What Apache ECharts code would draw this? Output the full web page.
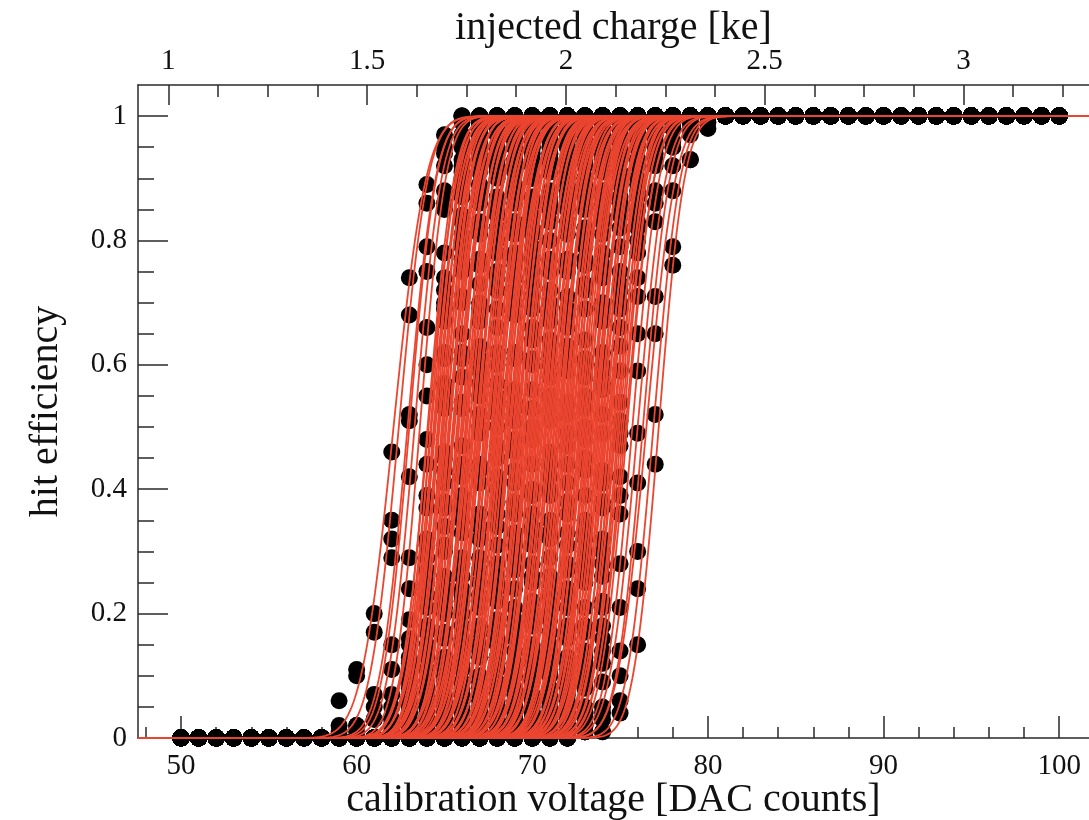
<!DOCTYPE html>
<html>
<head>
<meta charset="utf-8">
<script src="https://cdn.jsdelivr.net/npm/echarts@6/dist/echarts.min.js"></script>
<style>
  html, body { margin: 0; padding: 0; background: #fff; }
  #chart { width: 1089px; height: 820px; }
</style>
</head>
<body>
<div id="chart"></div>
<script>
// Threshold scan of a pixel matrix: hit efficiency of every pixel versus the
// injected calibration voltage, with the error-function fit of each pixel.

// Fitted threshold of every pixel [DAC counts]
const pixelThreshold = [
  62.1, 62.4, 62.9, 63.0, 63.3, 63.6,
  64.04, 64.09, 64.21, 64.26, 64.38, 64.43, 64.49, 64.61, 64.67, 64.72, 64.84, 64.91, 64.97,
  65.06, 65.11, 65.23, 65.29, 65.33, 65.47, 65.52, 65.58, 65.71, 65.76, 65.83, 65.95,
  66.02, 66.08, 66.19, 66.24, 66.31, 66.42, 66.46, 66.57, 66.63, 66.69, 66.81, 66.86, 66.94,
  67.03, 67.10, 67.14, 67.26, 67.32, 67.41, 67.48, 67.53, 67.66, 67.71, 67.79, 67.87, 67.92, 67.99,
  68.08, 68.13, 68.22, 68.29, 68.35, 68.46, 68.51, 68.59, 68.68, 68.74, 68.79, 68.91, 68.96,
  69.05, 69.12, 69.18, 69.27, 69.36, 69.41, 69.49, 69.57, 69.62, 69.73, 69.78, 69.86, 69.94,
  70.01, 70.09, 70.17, 70.24, 70.32, 70.39, 70.47, 70.55, 70.61, 70.70, 70.77, 70.83, 70.92, 70.98,
  71.07, 71.13, 71.22, 71.28, 71.37, 71.44, 71.52, 71.58, 71.67, 71.74, 71.81, 71.89, 71.96,
  72.05, 72.11, 72.20, 72.28, 72.34, 72.43, 72.51, 72.56, 72.65, 72.73, 72.79, 72.88, 72.95,
  73.03, 73.12, 73.18, 73.27, 73.33, 73.42, 73.49, 73.58, 73.64, 73.71, 73.80, 73.87, 73.96,
  74.04, 74.13, 74.19, 74.28, 74.37, 74.43, 74.52, 74.61, 74.69, 74.78, 74.88, 74.97,
  75.08, 75.19, 75.31, 75.40,
  75.7, 76.0, 76.3, 76.5, 76.9, 77.2
];

// Fitted noise (width of the turn-on) of every pixel [DAC counts]
const pixelNoise = [
  1.45, 1.30, 1.25, 1.20, 1.20, 1.15,
  1.18, 1.26, 1.12, 1.31, 1.22, 1.09, 1.27, 1.15, 1.35, 1.20, 1.14, 1.24, 1.17,
  1.29, 1.10, 1.21, 1.33, 1.16, 1.25, 1.08, 1.30, 1.19, 1.23, 1.13, 1.28,
  1.20, 1.36, 1.11, 1.24, 1.17, 1.29, 1.06, 1.21, 1.32, 1.15, 1.26, 1.19, 1.12,
  1.27, 1.18, 1.34, 1.09, 1.22, 1.30, 1.16, 1.24, 1.13, 1.28, 1.20, 1.37, 1.14, 1.21,
  1.26, 1.10, 1.31, 1.18, 1.23, 1.15, 1.33, 1.07, 1.25, 1.19, 1.29, 1.12, 1.22,
  1.17, 1.35, 1.20, 1.11, 1.27, 1.21, 1.14, 1.32, 1.09, 1.24, 1.18, 1.30, 1.16,
  1.23, 1.13, 1.28, 1.20, 1.34, 1.10, 1.22, 1.17, 1.26, 1.14, 1.31, 1.19, 1.08, 1.25,
  1.21, 1.36, 1.15, 1.24, 1.12, 1.29, 1.18, 1.23, 1.10, 1.33, 1.20, 1.16, 1.27,
  1.19, 1.30, 1.13, 1.25, 1.18, 1.22, 1.09, 1.32, 1.17, 1.26, 1.14, 1.21, 1.35,
  1.16, 1.24, 1.11, 1.28, 1.20, 1.15, 1.31, 1.19, 1.23, 1.12, 1.27, 1.18, 1.22,
  1.14, 1.29, 1.21, 1.33, 1.17, 1.24, 1.10, 1.27, 1.19, 1.30, 1.16, 1.22,
  1.25, 1.18, 1.28, 1.20,
  1.20, 1.25, 1.20, 1.30, 1.20, 1.15
];

// Measured efficiency [%] across the turn-on of every pixel.
// First entry: DAC value of the first listed point. Below it the pixel never
// fired (0 %), after the last listed point it always fired (100 %).
const scanRows = [
  [59, 6, 11, 20, 46, 74, 89, 95],
  [59, 2, 10, 17, 35, 68, 86, 97],
  [59, 1, 2, 7, 32, 52, 79, 94],
  [60, 2, 5, 29, 51, 75, 92, 99],
  [60, 1, 3, 15, 42, 66, 86, 96],
  [61, 3, 11, 29, 60, 88, 97],
  [62, 3, 24, 44, 85, 95, 99], [62, 7, 16, 55, 74, 97, 99], [62, 2, 12, 48, 70, 93, 99],
  [62, 5, 19, 37, 78, 90, 98], [62, 1, 13, 29, 72, 87, 99], [62, 2, 8, 39, 61, 92, 99],
  [62, 3, 15, 31, 67, 84, 97], [62, 1, 9, 27, 69, 91, 98], [62, 2, 10, 23, 62, 81, 96],
  [62, 1, 5, 32, 53, 88, 97], [62, 1, 7, 21, 57, 83, 98], [63, 4, 23, 45, 84, 92, 99],
  [63, 5, 18, 54, 76, 96, 99],
  [63, 6, 25, 43, 80, 94, 99], [63, 3, 17, 56, 79, 97, 99], [63, 2, 15, 46, 70, 93, 99],
  [63, 4, 18, 38, 77, 89, 98], [63, 2, 14, 41, 75, 95, 99], [63, 3, 11, 37, 61, 88, 98],
  [63, 1, 9, 30, 71, 91, 99], [63, 2, 13, 34, 65, 86, 97], [63, 1, 6, 24, 62, 87, 97],
  [63, 1, 8, 31, 54, 82, 98], [63, 0, 5, 26, 58, 89, 98], [64, 5, 20, 47, 81, 94, 99],
  [64, 4, 22, 53, 83, 95, 99], [64, 7, 21, 44, 76, 92, 99], [64, 2, 13, 42, 77, 94, 99],
  [64, 3, 17, 39, 69, 91, 98], [64, 3, 16, 37, 73, 94, 99], [64, 2, 11, 35, 63, 87, 98],
  [64, 1, 10, 33, 70, 93, 99], [64, 2, 12, 29, 67, 90, 98], [64, 2, 9, 26, 59, 82, 96],
  [64, 1, 6, 28, 61, 85, 98], [64, 1, 7, 24, 55, 86, 97], [64, 0, 6, 22, 57, 84, 98],
  [65, 3, 20, 49, 82, 96, 99],
  [65, 5, 23, 52, 80, 95, 99], [65, 4, 18, 50, 78, 93, 99], [65, 4, 15, 44, 74, 92, 98],
  [65, 2, 16, 41, 72, 95, 99], [65, 3, 13, 43, 75, 93, 99], [65, 3, 12, 32, 62, 88, 97],
  [65, 2, 11, 36, 69, 91, 99], [65, 2, 9, 34, 66, 89, 98], [65, 1, 8, 29, 60, 87, 98],
  [65, 1, 7, 25, 54, 83, 97], [65, 1, 6, 27, 57, 86, 97], [65, 2, 9, 23, 55, 81, 96],
  [66, 4, 21, 47, 83, 95, 99], [66, 5, 18, 52, 78, 96, 99],
  [66, 6, 22, 50, 77, 94, 99], [66, 2, 15, 45, 76, 95, 99], [66, 3, 17, 38, 70, 90, 98],
  [66, 3, 14, 40, 74, 93, 99], [66, 3, 15, 42, 72, 92, 99], [66, 2, 10, 36, 68, 90, 99],
  [66, 3, 13, 31, 62, 86, 97], [66, 1, 8, 34, 70, 92, 99], [66, 1, 7, 25, 56, 84, 97],
  [66, 1, 8, 28, 61, 87, 98], [66, 1, 9, 26, 54, 82, 97], [67, 4, 18, 48, 79, 96, 99],
  [67, 5, 22, 51, 82, 95, 99],
  [67, 4, 19, 53, 81, 94, 99], [67, 6, 24, 46, 75, 93, 99], [67, 3, 16, 41, 71, 93, 99],
  [67, 2, 13, 43, 77, 94, 99], [67, 4, 15, 38, 73, 91, 98], [67, 2, 12, 36, 64, 88, 98],
  [67, 2, 9, 31, 69, 91, 99], [67, 3, 13, 37, 60, 86, 97], [67, 1, 11, 33, 66, 92, 99],
  [67, 1, 6, 29, 56, 85, 97], [67, 1, 8, 24, 61, 87, 98], [67, 1, 7, 27, 53, 83, 97],
  [68, 4, 21, 48, 80, 95, 99],
  [68, 5, 19, 53, 77, 95, 99], [68, 3, 17, 50, 83, 96, 99], [68, 4, 18, 44, 70, 91, 98],
  [68, 3, 14, 40, 75, 93, 99], [68, 5, 16, 39, 72, 89, 98], [68, 1, 11, 33, 68, 92, 99],
  [68, 2, 10, 36, 64, 88, 98], [68, 2, 12, 31, 67, 90, 98], [68, 2, 11, 34, 62, 87, 98],
  [68, 1, 8, 25, 58, 86, 98], [68, 2, 7, 28, 55, 83, 96], [68, 1, 6, 26, 60, 85, 97],
  [69, 3, 20, 53, 83, 96, 99], [69, 5, 22, 46, 77, 94, 99],
  [69, 4, 19, 51, 81, 95, 99], [69, 5, 18, 40, 69, 90, 98], [69, 3, 15, 44, 76, 93, 99],
  [69, 3, 14, 39, 71, 92, 99], [69, 2, 13, 42, 75, 94, 99], [69, 2, 13, 32, 63, 87, 97],
  [69, 2, 10, 35, 68, 90, 98], [69, 2, 12, 33, 66, 89, 98], [69, 1, 7, 29, 61, 88, 98],
  [69, 2, 9, 25, 54, 82, 96], [69, 1, 6, 26, 59, 85, 97], [70, 4, 20, 49, 79, 95, 99],
  [70, 5, 23, 52, 81, 94, 99],
  [70, 4, 19, 47, 82, 95, 99], [70, 6, 22, 54, 77, 93, 99], [70, 2, 15, 41, 72, 94, 99],
  [70, 3, 17, 44, 73, 92, 98], [70, 3, 14, 38, 76, 93, 99], [70, 2, 12, 36, 64, 88, 98],
  [70, 1, 10, 31, 69, 91, 99], [70, 3, 11, 33, 61, 86, 97], [70, 1, 8, 28, 60, 87, 98],
  [70, 1, 7, 24, 55, 84, 97], [70, 1, 6, 27, 58, 86, 98], [71, 4, 21, 48, 81, 95, 99],
  [71, 6, 23, 50, 76, 93, 99],
  [71, 4, 18, 53, 83, 96, 99], [71, 5, 21, 49, 78, 94, 99], [71, 2, 13, 45, 74, 94, 99],
  [71, 4, 17, 39, 70, 91, 98], [71, 3, 16, 43, 74, 93, 99], [71, 2, 11, 35, 69, 90, 99],
  [71, 3, 12, 33, 62, 86, 97], [71, 2, 10, 32, 67, 89, 98], [71, 1, 8, 30, 59, 86, 97],
  [71, 1, 7, 25, 60, 87, 98], [71, 1, 9, 27, 56, 84, 97], [71, 1, 6, 28, 57, 85, 97],
  [72, 5, 21, 52, 79, 95, 99],
  [72, 4, 18, 49, 82, 96, 99], [72, 4, 17, 43, 70, 90, 98], [72, 3, 14, 41, 75, 93, 99],
  [72, 5, 18, 38, 72, 89, 98], [72, 2, 13, 42, 73, 93, 99], [72, 2, 12, 37, 66, 88, 98],
  [72, 1, 10, 32, 69, 92, 99], [72, 2, 11, 30, 63, 87, 97], [72, 1, 8, 26, 59, 85, 97],
  [72, 2, 9, 28, 54, 83, 96], [73, 4, 18, 51, 80, 95, 99], [73, 5, 21, 47, 82, 95, 99],
  [73, 5, 22, 49, 78, 94, 99], [73, 3, 16, 42, 71, 93, 99], [73, 4, 14, 39, 74, 92, 98],
  [73, 2, 12, 36, 65, 88, 98],
  [73, 2, 9, 28, 59, 86, 96, 99],
  [73, 1, 5, 21, 49, 83, 95, 99],
  [73, 1, 4, 14, 41, 71, 92, 98],
  [73, 1, 3, 10, 30, 65, 88, 97],
  [73, 1, 1, 6, 24, 52, 79, 93, 99],
  [73, 1, 1, 4, 15, 44, 76, 93, 98]
];

// Scan range of the calibration voltage [DAC counts]
const scanFirstDac = 50;
const scanLastDac = 100;

// Axis extents and tick values
const dacMin = 47.55, dacMax = 101.7;
const dacTickLabels = [50, 60, 70, 80, 90, 100];
const dacMinorTicks = [48, 52, 54, 56, 58, 62, 64, 66, 68, 72, 74, 76, 78,
                       82, 84, 86, 88, 92, 94, 96, 98];
const effTickLabels = [0, 0.2, 0.4, 0.6, 0.8, 1];
const effMinorTicks = [0.05, 0.1, 0.15, 0.25, 0.3, 0.35, 0.45, 0.5, 0.55,
                       0.65, 0.7, 0.75, 0.85, 0.9, 0.95];
const effMax = 1.05;
const keTickLabels = [1, 1.5, 2, 2.5, 3];
const keMinorTicks = [1.125, 1.25, 1.375, 1.625, 1.75, 1.875, 2.125, 2.25, 2.375,
                      2.625, 2.75, 2.875, 3.125, 3.25];

// Charge calibration: injected charge [ke] = gain * DAC + offset
const chargeGain = 0.044179;
const chargeOffset = -1.1771;

// ---------------------------------------------------------------------------
const FONT = '"Liberation Serif", "DejaVu Serif", serif';
const AXIS_COLOR = '#2a2a2a';
const FIT_COLOR = '#eb4530';

function erf(x) {
  const s = x < 0 ? -1 : 1;
  const a = Math.abs(x);
  const t = 1 / (1 + 0.3275911 * a);
  const y = 1 - (((((1.061405429 * t - 1.453152027) * t) + 1.421413741) * t
              - 0.284496736) * t + 0.254829592) * t * Math.exp(-a * a);
  return s * y;
}
// S-curve fit model: efficiency of a pixel at a given calibration voltage
function sCurve(v, thr, noise) {
  return 0.5 * (1 + erf((v - thr) / (noise * Math.SQRT2)));
}

// Measured points of one pixel over the whole scan
function pixelHits(row) {
  const start = row[0];
  const values = row.slice(1);
  const end = start + values.length - 1;
  const pts = [];
  for (let d = scanFirstDac; d < start; d++) pts.push([d, 0]);
  values.forEach((p, k) => pts.push([start + k, p / 100]));
  for (let d = end + 1; d <= scanLastDac; d++) pts.push([d, 1]);
  return pts;
}

// Fit curve of one pixel across the full axis range
function pixelFit(thr, noise) {
  const pts = [[dacMin, sCurve(dacMin, thr, noise)]];
  const lo = Math.max(dacMin, thr - 6 * noise);
  const hi = Math.min(dacMax, thr + 6 * noise);
  for (let v = lo; v <= hi; v += 0.05) pts.push([v, sCurve(v, thr, noise)]);
  pts.push([dacMax, sCurve(dacMax, thr, noise)]);
  return pts;
}

// Pixels are drawn one after another (points, then fit), stepping through the
// list with a fixed stride so that neighbouring thresholds are not drawn in a row.
const nPix = pixelThreshold.length;
const drawStride = 37;
const series = [];
for (let k = 0; k < nPix; k++) {
  const i = (k * drawStride) % nPix;
  series.push({
    type: 'scatter',
    data: pixelHits(scanRows[i]),
    symbol: 'circle',
    symbolSize: 17,
    silent: true,
    itemStyle: { color: '#000000', opacity: 1 }
  });
  series.push({
    type: 'line',
    data: pixelFit(pixelThreshold[i], pixelNoise[i]),
    showSymbol: false,
    symbol: 'none',
    silent: true,
    lineStyle: { color: FIT_COLOR, width: 1.8, opacity: 1 }
  });
}

const keMin = chargeGain * dacMin + chargeOffset;
const keMax = chargeGain * dacMax + chargeOffset;

const labelStyle = { fontFamily: FONT, fontSize: 29, color: '#111' };
const nameStyle = { fontFamily: FONT, fontSize: 40, color: '#111' };
const lineStyle = { color: AXIS_COLOR, width: 1.5 };

const chart = echarts.init(document.getElementById('chart'), null, { renderer: 'canvas' });
chart.setOption({
  animation: false,
  backgroundColor: '#ffffff',
  grid: { left: 138, top: 85, right: 0, bottom: 82, containLabel: false, outerBoundsMode: 'none' },
  xAxis: [
    {
      type: 'value', position: 'bottom', min: dacMin, max: dacMax,
      axisLine: { show: true, lineStyle },
      axisTick: { show: true, inside: true, length: 22, customValues: dacTickLabels, lineStyle },
      axisLabel: { show: true, customValues: dacTickLabels, margin: 14, ...labelStyle },
      splitLine: { show: false },
      name: 'calibration voltage [DAC counts]', nameLocation: 'middle', nameGap: 42,
      nameMoveOverlap: false,
      nameTextStyle: nameStyle
    },
    {
      type: 'value', position: 'bottom', min: dacMin, max: dacMax,
      axisLine: { show: false },
      axisTick: { show: true, inside: true, length: 11, customValues: dacMinorTicks, lineStyle },
      axisLabel: { show: false },
      splitLine: { show: false }
    },
    {
      type: 'value', position: 'top', min: keMin, max: keMax,
      axisLine: { show: true, lineStyle },
      axisTick: { show: true, inside: true, length: 20, customValues: keTickLabels, lineStyle },
      axisLabel: { show: true, customValues: keTickLabels, margin: 9, ...labelStyle },
      splitLine: { show: false },
      name: 'injected charge [ke]', nameLocation: 'middle', nameGap: 37,
      nameMoveOverlap: false,
      nameTextStyle: nameStyle
    },
    {
      type: 'value', position: 'top', min: keMin, max: keMax,
      axisLine: { show: false },
      axisTick: { show: true, inside: true, length: 12, customValues: keMinorTicks, lineStyle },
      axisLabel: { show: false },
      splitLine: { show: false }
    }
  ],
  yAxis: [
    {
      type: 'value', position: 'left', min: 0, max: effMax,
      axisLine: { show: true, lineStyle },
      axisTick: { show: true, inside: true, length: 30, customValues: effTickLabels, lineStyle },
      axisLabel: { show: true, customValues: effTickLabels, margin: 11, ...labelStyle },
      splitLine: { show: false },
      name: 'hit efficiency', nameLocation: 'middle', nameGap: 72,
      nameMoveOverlap: false,
      nameTextStyle: nameStyle
    },
    {
      type: 'value', position: 'left', min: 0, max: effMax,
      axisLine: { show: false },
      axisTick: { show: true, inside: true, length: 16, customValues: effMinorTicks, lineStyle },
      axisLabel: { show: false },
      splitLine: { show: false }
    }
  ],
  series: series
});
</script>
</body>
</html>
